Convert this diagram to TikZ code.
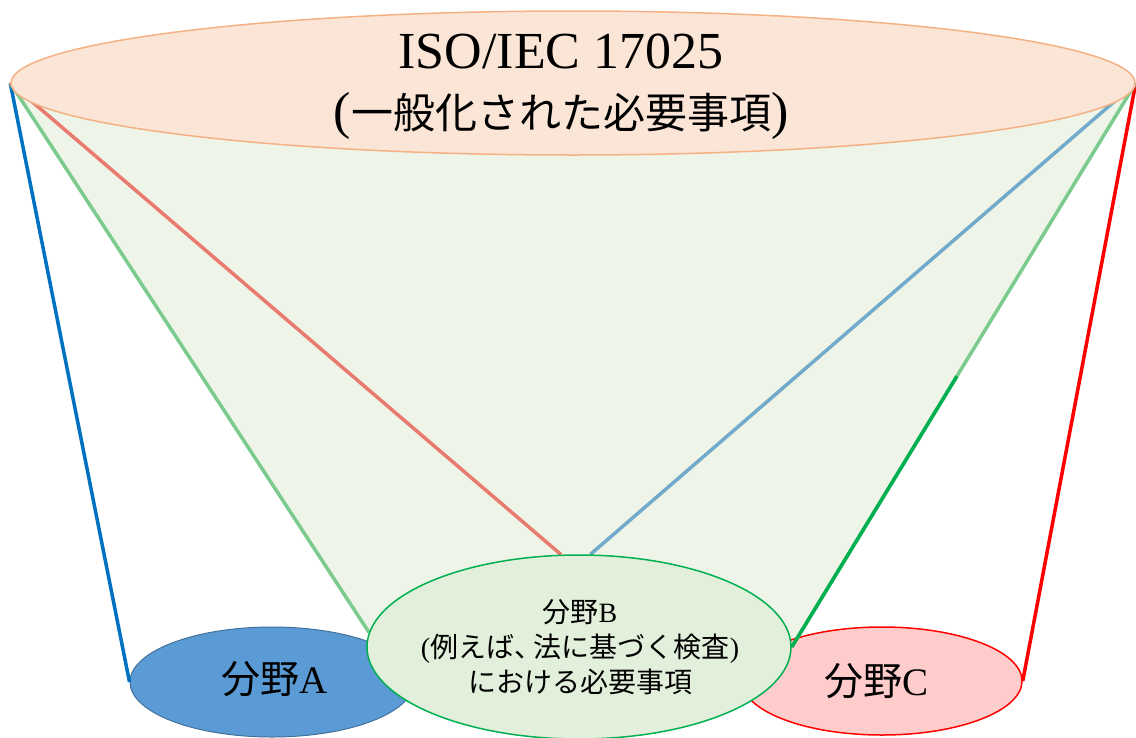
\documentclass[tikz,border=0pt]{standalone}
\usepackage{fontspec}
\setmainfont{Liberation Serif}
\newfontfamily\cjk{Noto Sans CJK JP}
\usetikzlibrary{shapes.geometric,calc}
\pgfdeclarelayer{bg}
\pgfdeclarelayer{fg}
\pgfsetlayers{bg,main,fg}
\definecolor{topfill}{HTML}{FBE5D6}
\definecolor{topdraw}{HTML}{F4B183}
\definecolor{fanfill}{HTML}{EEF5E8}
\definecolor{Afill}{HTML}{5B9BD5}
\definecolor{Adraw}{HTML}{41719C}
\definecolor{Bfill}{HTML}{E2EFDA}
\definecolor{Bdraw}{HTML}{00B050}
\definecolor{Cfill}{HTML}{FFCCCC}
\definecolor{Cdraw}{HTML}{FF0000}
\definecolor{lnblue}{HTML}{0070C0}
\definecolor{lngreen}{HTML}{7CCB8E}
\definecolor{lnsalmon}{HTML}{E97A6E}
\definecolor{lnlblue}{HTML}{72AACB}
\definecolor{lndgreen}{HTML}{00B050}
\definecolor{lnred}{HTML}{FF0000}
\begin{document}
\begin{tikzpicture}[x=1pt,y=-1pt,
  oval/.style={ellipse, inner sep=0pt},
  conn/.style={line width=3.5pt},
  txt/.style={inner sep=0pt, align=center, text=black}]
\useasboundingbox (0,0) rectangle (1136,737);
% lower side ellipses
\node[oval, fill=Afill, draw=Adraw, line width=1pt, minimum width=284pt, minimum height=110pt] (A) at (272,682) {};
\node[oval, fill=Cfill, draw=Cdraw, line width=1.5pt, minimum width=280pt, minimum height=108pt] (C) at (882,681) {};
\node[txt, font=\fontsize{39}{44}\selectfont] (Atext) at (275,679) {{\cjk 分野}A};
\node[txt, font=\fontsize{39}{44}\selectfont] (Ctext) at (876,681) {{\cjk 分野}C};
% top and middle
\begin{pgfonlayer}{fg}
\node[oval, fill=topfill, draw=topdraw, line width=1.5pt, minimum width=1124pt, minimum height=144pt] (top) at (573,83) {};
\node[txt, font=\fontsize{52}{60}\selectfont] (toptext) at (561,87)
  {ISO/IEC 17025\\({\cjk\fontsize{42}{60}\selectfont 一般化された必要事項})};
\node[oval, fill=Bfill, draw=Bdraw, line width=1.5pt, minimum width=424pt, minimum height=184pt] (B) at (579,647) {};
\node[txt, font=\fontsize{28}{35}\selectfont] (Btext) at (580,647)
  {{\cjk 分野}B\\({\cjk 例えば、\kern-0.3em 法に基づく検査})\\{\cjk における必要事項}};
\end{pgfonlayer}
% fan
\begin{pgfonlayer}{bg}
\fill[fanfill] (top.west) -- (B.176) -- (B.east) -- (top.east) -- cycle;
\end{pgfonlayer}
% connectors
\draw[conn, lnblue] (top.west) -- (A.west);
\draw[conn, lnred] (top.east) -- (C.east);
\draw[conn, lngreen] (top.west) -- (B.176);
\draw[conn, lngreen] (top.east) -- (B.east);
\draw[conn, lndgreen] ($(top.east)!0.52!(B.east)$) -- (B.east);
\draw[conn, lnsalmon] (top.west) -- (B.101);
\draw[conn, lnlblue] (top.east) -- (B.83);
\end{tikzpicture}
\end{document}
